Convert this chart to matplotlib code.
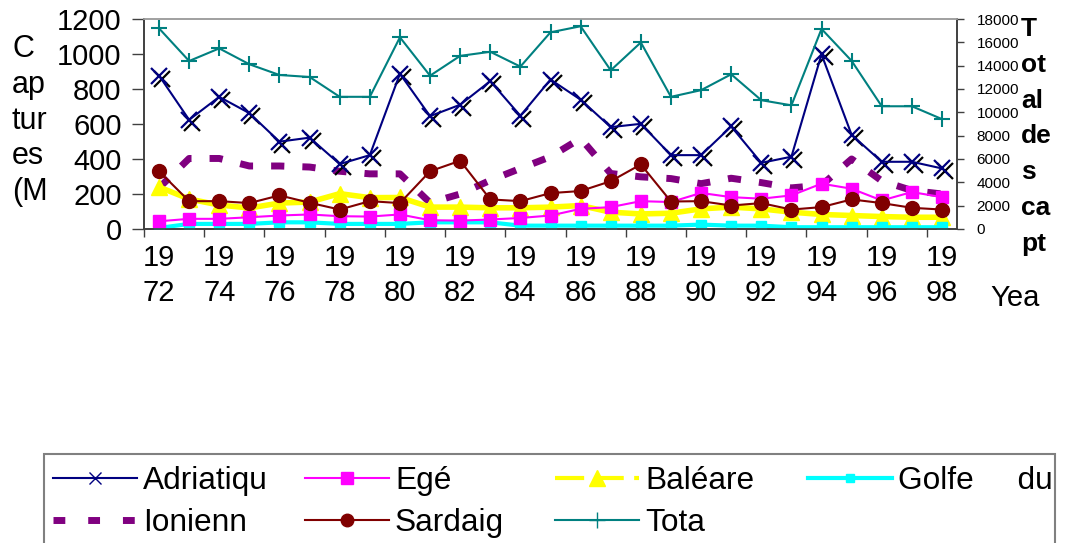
import matplotlib
matplotlib.use("Agg")
import matplotlib.pyplot as plt
from matplotlib.lines import Line2D
from matplotlib.patches import Rectangle
from matplotlib.transforms import Bbox, TransformedBbox, offset_copy
import numpy as np

plt.rcParams['font.family'] = ['Liberation Sans', 'DejaVu Sans']

## données

annees = list(range(1972, 1999))
adriatique = [877, 624, 755, 662, 499, 522, 371, 422, 887, 645, 710, 845, 647, 854,
              739, 582, 601, 422, 422, 586, 378, 413, 998, 538, 384, 384, 346]
ege = [44, 58, 58, 67, 77, 83, 73, 71, 83, 50, 48, 54, 63, 77,
       115, 125, 159, 154, 206, 182, 173, 192, 259, 230, 163, 211, 182]
baleare = [240, 171, 137, 120, 148, 154, 202, 179, 180, 125, 125, 121, 121, 125,
           134, 96, 86, 90, 115, 125, 115, 96, 83, 77, 71, 67, 67]
golfe = [6, 29, 29, 29, 38, 38, 29, 29, 29, 38, 38, 38, 19, 19,
         19, 19, 19, 19, 25, 19, 19, 10, 10, 10, 10, 10, 10]
ionienne = [235, 403, 403, 360, 360, 354, 330, 315, 315, 150, 200, 278, 346, 413,
            518, 317, 298, 288, 259, 290, 265, 235, 250, 400, 275, 220, 200]
sardaigne = [330, 159, 159, 148, 192, 150, 111, 159, 148, 330, 390, 169, 159, 205,
             217, 273, 369, 157, 159, 134, 148, 111, 125, 169, 148, 121, 111]
total = [17200, 14400, 15480, 14120, 13200, 13030, 11330, 11330, 16430, 13140, 14840,
         15190, 13920, 16860, 17380, 13600, 15990, 11330, 11900, 13260, 11040, 10600,
         17150, 14410, 10520, 10520, 9420]

x = np.arange(len(annees))

## figure

fig = plt.figure(figsize=(10.68, 5.43), dpi=100)
ax = fig.add_axes([0.1348, 0.5783, 0.7613, 0.3867])
ax2 = ax.twinx()

ax.plot(x, ionienne, color='#800080', lw=5, dashes=(1.9, 2.6), dash_capstyle='butt', zorder=2)
ax.plot(x, baleare, color='#FFFF00', lw=4, marker='^', ms=12, mec='#FFFF00', zorder=3)
ax.plot(x, golfe, color='#00FFFF', lw=3, marker='s', ms=7, zorder=3)
ax.plot(x, ege, color='#FF00FF', lw=1.5, marker='s', ms=8.5, zorder=3)
ax.plot(x, sardaigne, color='#800000', lw=1.5, marker='o', ms=10, zorder=4)
# croix noires decalees (artefact de l'original)
ax.plot(x, adriatique, ls='none', marker='x', ms=11, mew=1.6, color='black',
        transform=offset_copy(ax.transData, fig, x=3, y=-3, units='dots'), zorder=4)
ax.plot(x, adriatique, color='#000080', lw=1.5, marker='x', ms=11, mew=1.6, zorder=5)
ax2.plot(x, total, color='#008080', lw=1.5, marker='+', ms=11, mew=1.5)

ax.set_xlim(-0.5, len(x) - 0.5)
ax.set_ylim(0, 1200)
ax.set_yticks(np.arange(0, 1201, 200))
ax2.set_ylim(0, 18000)
ax2.set_yticks(np.arange(0, 18001, 2000))

ax.set_xticks(np.arange(-0.5, len(x), 2))
ax.set_xticklabels([])
ax.set_xticks(x[::2], minor=True)
ax.set_xticklabels([str(a)[:2] + '\n' + str(a)[2:] for a in annees[::2]], minor=True,
                   linespacing=1.29)
ax.tick_params(axis='x', which='major', length=6, width=1, color='#404040', direction='out')
ax.tick_params(axis='x', which='minor', length=0, pad=11, labelsize=21)
ax.tick_params(axis='y', length=9, width=1, color='#404040', pad=7, labelsize=21)
ax2.tick_params(axis='y', length=5, width=1, color='#404040', pad=9, labelsize=11)

for a in (ax, ax2):
    a.spines['top'].set_color('#a0a0a0')
    a.spines['left'].set_color('#404040')
    a.spines['bottom'].set_color('#404040')
    a.spines['right'].set_color('#404040')
    for s in a.spines.values():
        s.set_linewidth(1.2)

fig.text(12 / 1068, 1 - 34 / 543, "C\nap\ntur\nes\n(M", fontsize=22, va='top', ha='left',
         linespacing=1.25)
t = fig.text(1021 / 1068, 1 - 17 / 543, "T\not\nal\nde\ns\nca\npt", fontsize=19,
             fontweight='bold', va='top', ha='left', linespacing=1.62)
t.set_clip_box(TransformedBbox(Bbox.from_extents(0, 285 / 543, 1, 1), fig.transFigure))
t.set_clip_on(True)
fig.text(990 / 1068, 1 - 306 / 543, "Yea", fontsize=21, va='baseline', ha='left')

## légende

fig.patches.append(Rectangle((44 / 1068, -0.05), 1011 / 1068, 1 - 454 / 543 + 0.05,
                             transform=fig.transFigure, fill=False, ec='#808080', lw=1.5))

col1 = [Line2D([], [], color='#000080', lw=1.5, marker='x', ms=8),
        Line2D([], [], color='#800080', lw=5, dashes=(1.7, 3.3), dash_capstyle='butt')]
col2 = [Line2D([], [], color='#FF00FF', lw=1.5, marker='s', ms=9),
        Line2D([], [], color='#800000', lw=1.5, marker='o', ms=9)]
col3 = [Line2D([], [], color='#FFFF00', lw=3, marker='^', ms=12, dashes=(7, 2.5)),
        Line2D([], [], color='#008080', lw=1.5, marker='+', ms=11)]
col4 = [Line2D([], [], color='#00FFFF', lw=3, marker='s', ms=6)]
cols = [(col1, ['Adriatiqu', 'Ionienn'], 53),
        (col2, ['Egé', 'Sardaig'], 305),
        (col3, ['Baléare', 'Tota'], 555),
        (col4, ['Golfe     du'], 808)]
for h, lab, xpos in cols:
    fig.legend(h, lab, loc='upper left', bbox_to_anchor=(xpos / 1068, 1 - 466 / 543),
               frameon=False, fontsize=22.8, handlelength=2.65, handletextpad=0.19,
               borderpad=0, borderaxespad=0, labelspacing=0.38)

fig.savefig('out.png', dpi=100)
